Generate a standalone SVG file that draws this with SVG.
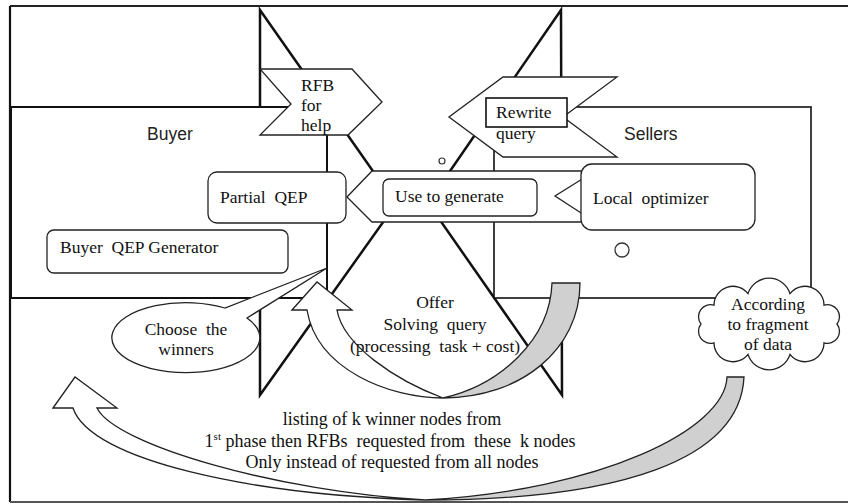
<svg xmlns="http://www.w3.org/2000/svg" width="848" height="503" viewBox="0 0 848 503">
<style>
.t{font-family:"Liberation Serif","Times New Roman",serif;font-size:17.5px;fill:#111}
.b{font-family:"Liberation Serif","Times New Roman",serif;font-size:18px;fill:#111}
.s{font-family:"Liberation Sans",Arial,sans-serif;font-size:17.5px;fill:#222}
.box{fill:#fff;stroke:#222;stroke-width:1.3}
.big{fill:#fff;stroke:#111;stroke-width:2}
.bow{fill:none;stroke:#111;stroke-width:2.5;stroke-linejoin:miter}
.arw{fill:#fff;stroke:#222;stroke-width:1.3;stroke-linejoin:miter}
.gray{fill:#d0d0d0;stroke:#222;stroke-width:1.3}
</style>
<rect width="848" height="503" fill="#fff"/>
<g id="frame">
<path d="M10,6 H848" stroke="#222" stroke-width="2" fill="none"/>
<path d="M10,6 V502" stroke="#111" stroke-width="2.2" fill="none"/>
<path d="M10,502 H848" stroke="#555" stroke-width="2" fill="none"/>
</g>
<g id="bowtie">
<path class="bow" d="M260,10 L396,204 L260,395 Z"/>
<path class="bow" d="M561,10 L428,203 L562,395 Z"/>
</g>
<g id="buyer">
<rect class="big" x="11" y="107" width="316" height="191"/>
<text class="s" x="147" y="140">Buyer</text>
</g>
<g id="sellers">
<rect x="494" y="107" width="317" height="191" fill="#fff" stroke="#111" stroke-width="1.6"/>
<text class="s" x="624" y="140">Sellers</text>
</g>
<g id="rfb">
<path class="arw" d="M260,69 H352 L382,102 L348,135 H260 L291,104 Z"/>
<text class="t" x="301" y="91">RFB</text>
<text class="t" x="301" y="111">for</text>
<text class="t" x="301" y="131">help</text>
</g>
<g id="rewrite">
<path class="arw" d="M503,77 H617 L563,117 L617,157 H503 L449,117 Z"/>
<rect x="486" y="98" width="81" height="29" fill="#fff" stroke="#111" stroke-width="1.6"/>
<text class="t" x="496" y="118">Rewrite</text>
<text class="t" x="496" y="139">query</text>
</g>
<g id="use-to-generate">
<path class="arw" d="M347,197 L372,171 H595 L555,196 L595,222 H372 Z"/>
<rect class="box" x="383" y="179" width="154" height="37" rx="6"/>
<text class="t" x="395" y="202">Use to generate</text>
</g>
<g id="partial-qep">
<rect class="box" x="208" y="172" width="138" height="51" rx="9"/>
<text class="t" x="220" y="203" xml:space="preserve">Partial  QEP</text>
</g>
<g id="local-optimizer">
<rect class="box" x="581" y="164" width="174" height="66" rx="11"/>
<text class="t" x="593" y="204" xml:space="preserve">Local  optimizer</text>
</g>
<g id="buyer-qep-generator">
<rect class="box" x="47" y="230" width="241" height="43" rx="7"/>
<text class="t" x="60" y="253" xml:space="preserve">Buyer  QEP Generator</text>
</g>
<g id="dots">
<circle cx="442" cy="161" r="3" fill="#fff" stroke="#333" stroke-width="1.2"/>
<circle cx="622" cy="250" r="7" fill="#fff" stroke="#333" stroke-width="1.3"/>
</g>
<g id="connectors">
<path class="arw" d="M292,310 L317,282 L352,310 L337,310 C343,345 395,380 443,398 C390,398 317,370 307,310 Z"/>
<path class="gray" d="M552,283 L580,283 C580,350 520,398 443,398 C500,385 550,340 552,283 Z"/>
<path class="arw" d="M53,408 L75,377 L117,408 L97,408 C115,445 280,492 425,500 C250,495 90,460 73,408 Z"/>
<path class="gray" d="M727,377 L744,377 C740,460 620,500 425,500 C600,490 725,430 727,377 Z"/>
</g>
<g id="offer">
<text class="t" x="435" y="308" text-anchor="middle">Offer</text>
<text class="t" x="435" y="330" text-anchor="middle" xml:space="preserve">Solving  query</text>
<text class="t" x="435" y="352" text-anchor="middle" xml:space="preserve">(processing  task + cost)</text>
</g>
<g id="choose-winners">
<path d="M247,318 A74 35 0 1 1 225,308 L327,268 Z" fill="#fff" stroke="#222" stroke-width="1.3" stroke-linejoin="miter"/>
<text class="t" x="186" y="335" text-anchor="middle" xml:space="preserve">Choose  the</text>
<text class="t" x="186" y="355" text-anchor="middle">winners</text>
</g>
<g id="cloud">
<path d="M837,324 A12 12 0 0 1 824,342.8 A19 19 0 0 1 790,354.4 A22 22 0 0 1 748,354.4 A19 19 0 0 1 714,342.8 A12 12 0 0 1 701,324 A12 12 0 0 1 714,305.2 A19 19 0 0 1 748,293.6 A22 22 0 0 1 790,293.6 A19 19 0 0 1 824,305.2 A12 12 0 0 1 837,324 Z" fill="#fff" stroke="#222" stroke-width="1.3"/>
<text class="t" x="768" y="310" text-anchor="middle">According</text>
<text class="t" x="768" y="330" text-anchor="middle">to fragment</text>
<text class="t" x="768" y="350" text-anchor="middle">of data</text>
</g>
<g id="note">
<text class="b" x="392" y="425" text-anchor="middle">listing of k winner nodes from</text>
<text class="b" x="390" y="447" text-anchor="middle" xml:space="preserve">1<tspan font-size="11" dy="-7">st</tspan><tspan dy="7"> phase then RFBs  requested from  these  k nodes</tspan></text>
<text class="b" x="392" y="468" text-anchor="middle">Only instead of requested from all nodes</text>
</g>
</svg>
